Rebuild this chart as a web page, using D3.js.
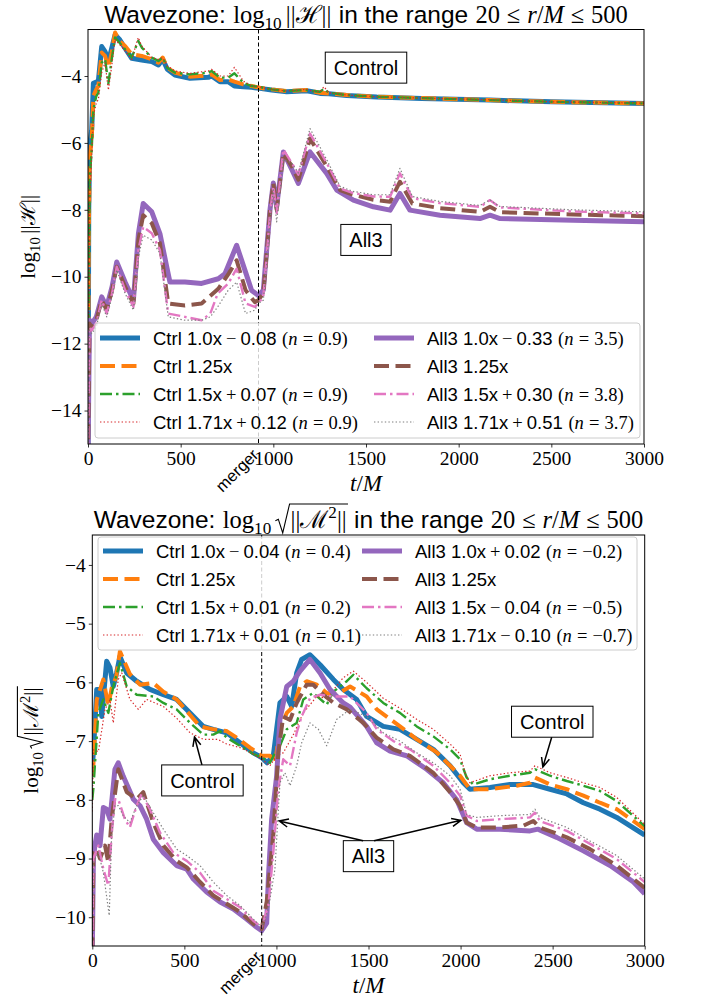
<!DOCTYPE html>
<html>
<head>
<meta charset="utf-8">
<script src="https://cdn.jsdelivr.net/npm/d3@7/dist/d3.min.js"></script>
<style>
  body { margin: 0; background: #fff; }
</style>
</head>
<body>
<svg id="chart" width="705" height="1000"></svg>
<script>
var SANS = "'Liberation Sans', Arial, sans-serif";
var SERIF = "'Liberation Serif', 'DejaVu Serif', serif";
var MINUS = "\u2212";

// ---- top panel: log10 ||H|| ----
var hCtrl10T = [0, 4, 10, 20, 29, 45, 56, 74, 92, 110, 128, 146, 169, 200, 236, 290, 344, 380, 403, 428, 469, 550, 649, 667, 712, 757, 790, 838, 883, 928, 991, 1072, 1180, 1210, 1252, 1300, 1396, 1558, 1800, 2169, 2500, 3000];
var hCtrl10V = [-15.5, -8.0, -6.0, -5.6, -4.22, -4.18, -4.15, -3.12, -3.27, -3.57, -3.17, -2.77, -2.9, -3.17, -3.47, -3.52, -3.57, -3.67, -3.5, -3.8, -3.97, -4.07, -4.04, -4.0, -4.17, -4.17, -4.3, -4.32, -4.34, -4.37, -4.42, -4.47, -4.44, -4.47, -4.52, -4.53, -4.58, -4.63, -4.67, -4.72, -4.77, -4.82];
var hCtrl125T = hCtrl10T;
var hCtrl125V = [-15.5, -8.8, -6.4, -5.9, -4.6, -4.4, -4.3, -3.3, -3.4, -3.75, -3.3, -2.7, -2.95, -3.1, -3.35, -3.4, -3.5, -3.6, -3.45, -3.75, -3.9, -4.02, -3.98, -3.95, -4.12, -4.1, -4.17, -4.25, -4.3, -4.35, -4.4, -4.45, -4.42, -4.45, -4.5, -4.52, -4.57, -4.62, -4.66, -4.72, -4.77, -4.82];
var hCtrl15T = [0, 4, 10, 20, 29, 45, 56, 74, 92, 110, 128, 146, 169, 200, 236, 271, 290, 344, 380, 403, 428, 469, 550, 649, 667, 712, 757, 790, 838, 883, 928, 991, 1072, 1180, 1210, 1252, 1273, 1300, 1396, 1558, 1800, 2169, 2500, 3000];
var hCtrl15V = [-15.5, -10.0, -7.0, -6.2, -5.0, -4.6, -4.5, -3.6, -3.5, -4.22, -3.5, -2.85, -3.0, -3.2, -3.45, -2.95, -3.15, -3.45, -3.55, -3.45, -3.75, -3.9, -3.95, -3.9, -3.85, -4.05, -4.05, -3.92, -4.2, -4.3, -4.33, -4.4, -4.45, -4.42, -4.45, -4.47, -4.38, -4.5, -4.57, -4.62, -4.66, -4.72, -4.77, -4.82];
var hCtrl171T = hCtrl15T;
var hCtrl171V = [-15.5, -11.0, -7.5, -6.4, -5.2, -4.8, -4.7, -3.9, -3.6, -4.42, -3.7, -2.9, -3.05, -3.25, -3.5, -2.85, -3.1, -3.45, -3.5, -3.45, -3.7, -3.85, -3.92, -3.85, -3.8, -4.0, -4.0, -3.74, -4.15, -4.3, -4.33, -4.4, -4.45, -4.4, -4.45, -4.47, -4.32, -4.5, -4.57, -4.62, -4.66, -4.71, -4.77, -4.81];
var hAll310T = [0, 8, 20, 45, 74, 101, 130, 155, 200, 245, 272, 298, 344, 388, 425, 442, 523, 613, 703, 739, 802, 847, 883, 919, 946, 964, 982, 1000, 1018, 1054, 1100, 1135, 1198, 1288, 1342, 1432, 1540, 1630, 1683, 1737, 1899, 2115, 2169, 2223, 2619, 3000];
var hAll310V = [-15.5, -11.3, -11.4, -11.2, -10.6, -10.9, -10.3, -9.56, -10.16, -10.7, -8.71, -7.81, -8.06, -8.71, -9.71, -10.16, -10.16, -10.2, -10.06, -9.91, -9.06, -9.81, -10.41, -10.56, -10.4, -9.2, -8.0, -7.2, -7.9, -6.27, -6.8, -7.21, -6.27, -6.91, -7.41, -7.71, -7.91, -8.01, -7.51, -8.01, -8.16, -8.26, -8.16, -8.26, -8.31, -8.36];
var hAll3125T = [0, 8, 20, 45, 74, 101, 130, 155, 200, 245, 272, 298, 344, 388, 433, 523, 613, 703, 760, 802, 850, 900, 919, 946, 964, 982, 1000, 1018, 1054, 1100, 1135, 1198, 1288, 1360, 1432, 1540, 1630, 1683, 1750, 1899, 2115, 2169, 2223, 2619, 3000];
var hAll3125V = [-15.5, -11.4, -11.5, -11.3, -10.7, -11.0, -10.4, -9.7, -10.3, -10.8, -8.9, -8.16, -8.4, -9.0, -10.8, -10.86, -10.8, -10.36, -9.9, -9.51, -10.4, -10.76, -10.7, -10.5, -9.3, -8.0, -7.2, -8.0, -6.3, -6.7, -7.1, -5.87, -6.7, -7.41, -7.55, -7.7, -7.76, -7.16, -7.81, -7.95, -8.06, -7.91, -8.07, -8.14, -8.19];
var hAll315T = [0, 8, 20, 45, 74, 101, 130, 155, 200, 245, 272, 298, 344, 388, 433, 523, 613, 660, 700, 757, 802, 850, 900, 919, 946, 964, 982, 1000, 1018, 1054, 1100, 1135, 1198, 1288, 1360, 1432, 1540, 1630, 1683, 1750, 1899, 2115, 2169, 2223, 2619, 3000];
var hAll315V = [-15.5, -11.5, -11.6, -11.4, -10.7, -11.1, -10.5, -9.7, -10.4, -10.9, -9.2, -8.51, -8.7, -9.2, -11.1, -11.2, -11.3, -11.1, -10.5, -10.2, -9.76, -10.8, -10.9, -10.8, -10.6, -9.4, -8.1, -7.3, -8.1, -6.2, -6.6, -6.95, -5.72, -6.6, -7.36, -7.5, -7.6, -7.61, -6.91, -7.65, -7.8, -7.91, -7.71, -7.93, -8.05, -8.11];
var hAll3171T = hAll315T;
var hAll3171V = [-15.5, -11.6, -11.7, -11.5, -10.8, -11.2, -10.6, -9.8, -10.5, -11.0, -9.4, -8.76, -8.9, -9.3, -11.2, -11.3, -11.3, -11.2, -10.9, -10.4, -10.16, -11.1, -11.0, -10.8, -10.7, -9.6, -8.3, -7.4, -8.36, -6.5, -6.6, -6.9, -5.57, -6.5, -7.3, -7.45, -7.55, -7.55, -6.76, -7.6, -7.75, -7.87, -7.7, -7.9, -8.0, -8.06];

// ---- bottom panel: log10 sqrt(||M^2||) ----
var mCtrl10T = [0, 6, 24, 42, 51, 78, 96, 114, 132, 150, 187, 241, 313, 386, 458, 531, 603, 657, 730, 802, 874, 920, 949, 983, 1001, 1019, 1056, 1083, 1110, 1137, 1182, 1237, 1309, 1363, 1436, 1490, 1580, 1671, 1762, 1852, 1943, 2015, 2051, 2160, 2268, 2395, 2486, 2577, 2667, 2757, 2848, 3000];
var mCtrl10V = [-7.4, -7.2, -6.12, -6.12, -6.58, -5.64, -5.75, -6.07, -5.84, -5.56, -5.84, -5.98, -6.12, -6.21, -6.29, -6.52, -6.75, -6.8, -6.86, -7.03, -7.2, -7.28, -7.37, -7.25, -6.8, -6.35, -6.24, -6.41, -5.84, -5.61, -5.53, -5.7, -5.95, -6.12, -6.29, -6.58, -6.75, -6.8, -6.97, -7.14, -7.42, -7.71, -7.82, -7.79, -7.74, -7.74, -7.82, -7.9, -8.05, -8.16, -8.3, -8.6];
var mCtrl125T = [0, 6, 24, 60, 87, 105, 130, 150, 204, 259, 331, 386, 458, 513, 585, 657, 730, 784, 856, 920, 965, 992, 1019, 1056, 1092, 1128, 1164, 1219, 1273, 1327, 1400, 1490, 1545, 1671, 1762, 1870, 1943, 1997, 2051, 2160, 2305, 2377, 2404, 2486, 2577, 2667, 2757, 2848, 3000];
var mCtrl125V = [-7.6, -7.4, -6.3, -5.95, -6.4, -6.1, -5.9, -5.47, -5.86, -6.04, -6.01, -6.16, -6.29, -6.49, -6.75, -6.8, -6.83, -6.94, -7.11, -7.25, -7.25, -7.37, -6.8, -6.52, -6.41, -6.07, -5.98, -6.04, -6.18, -6.21, -6.07, -6.24, -6.46, -6.75, -6.97, -7.19, -7.42, -7.59, -7.82, -7.82, -7.76, -7.71, -7.62, -7.74, -7.82, -7.93, -8.05, -8.16, -8.5];
var mCtrl15T = [0, 6, 33, 60, 87, 114, 150, 187, 241, 331, 386, 458, 531, 603, 657, 694, 730, 802, 874, 920, 965, 992, 1019, 1056, 1110, 1146, 1200, 1273, 1309, 1382, 1418, 1490, 1580, 1671, 1762, 1852, 1943, 1997, 2033, 2069, 2160, 2268, 2377, 2404, 2486, 2577, 2667, 2757, 2848, 3000];
var mCtrl15V = [-8.0, -7.8, -6.52, -6.29, -6.52, -6.07, -5.67, -6.07, -6.21, -6.24, -6.35, -6.46, -6.69, -6.89, -6.89, -6.83, -6.94, -7.08, -7.22, -7.28, -7.37, -7.2, -7.08, -6.8, -6.69, -6.29, -6.18, -6.38, -6.16, -5.98, -5.87, -6.1, -6.35, -6.52, -6.75, -6.92, -7.14, -7.31, -7.62, -7.74, -7.65, -7.59, -7.54, -7.48, -7.59, -7.68, -7.76, -7.85, -8.02, -8.45];
var mCtrl171T = [0, 6, 33, 69, 96, 114, 141, 160, 204, 250, 295, 386, 458, 531, 603, 680, 730, 802, 874, 920, 965, 1001, 1037, 1092, 1146, 1219, 1273, 1363, 1418, 1490, 1580, 1671, 1762, 1852, 1943, 1997, 2024, 2051, 2160, 2268, 2377, 2404, 2486, 2577, 2667, 2757, 2848, 3000];
var mCtrl171V = [-8.2, -7.15, -7.18, -6.46, -6.3, -6.69, -5.95, -5.84, -6.29, -6.46, -6.29, -6.41, -6.61, -6.86, -6.97, -6.97, -7.05, -7.11, -7.22, -7.31, -7.42, -7.25, -7.2, -6.89, -6.52, -6.24, -6.27, -5.92, -5.81, -6.0, -6.27, -6.44, -6.63, -6.8, -7.05, -7.22, -7.54, -7.71, -7.59, -7.54, -7.51, -7.42, -7.54, -7.62, -7.71, -7.79, -7.96, -8.42];
var mAll310T = [0, 6, 14, 24, 42, 60, 78, 96, 123, 141, 168, 223, 259, 295, 331, 386, 458, 513, 549, 621, 694, 766, 838, 893, 920, 947, 956, 974, 1001, 1019, 1056, 1092, 1128, 1182, 1237, 1291, 1363, 1400, 1490, 1545, 1617, 1707, 1816, 1906, 1979, 2033, 2088, 2214, 2377, 2420, 2522, 2667, 2812, 2939, 3000];
var mAll310V = [-10.6, -9.0, -8.78, -8.6, -8.78, -8.13, -8.16, -8.33, -7.48, -7.37, -7.6, -7.99, -8.1, -8.33, -8.67, -8.9, -9.12, -9.18, -9.35, -9.57, -9.74, -9.86, -10.03, -10.17, -10.23, -10.1, -9.35, -8.33, -7.6, -6.63, -6.07, -5.98, -5.81, -5.61, -5.84, -6.12, -6.35, -6.42, -6.75, -7.03, -7.17, -7.25, -7.48, -7.71, -8.0, -8.39, -8.5, -8.5, -8.53, -8.5, -8.64, -8.87, -9.12, -9.4, -9.6];
var mAll3125T = [0, 6, 24, 42, 69, 87, 105, 141, 187, 241, 277, 331, 386, 458, 513, 585, 657, 730, 802, 874, 920, 947, 983, 1010, 1037, 1074, 1110, 1164, 1200, 1255, 1310, 1382, 1472, 1544, 1635, 1725, 1852, 1943, 1997, 2033, 2088, 2214, 2341, 2395, 2430, 2577, 2703, 2848, 3000];
var mAll3125V = [-10.6, -8.9, -8.83, -9.0, -8.78, -9.07, -8.33, -7.48, -7.87, -7.99, -7.87, -8.39, -8.78, -9.04, -9.15, -9.4, -9.63, -9.77, -9.91, -10.11, -10.2, -9.74, -8.6, -7.2, -6.58, -6.64, -6.35, -6.04, -6.04, -6.21, -6.35, -6.46, -6.69, -6.94, -7.14, -7.25, -7.54, -7.87, -8.1, -8.39, -8.47, -8.47, -8.44, -8.36, -8.47, -8.64, -8.84, -9.12, -9.5];
var mAll315T = [0, 6, 33, 60, 87, 105, 123, 141, 177, 204, 241, 268, 313, 368, 440, 513, 585, 657, 730, 802, 874, 920, 956, 983, 1010, 1037, 1074, 1110, 1137, 1182, 1237, 1309, 1400, 1490, 1545, 1635, 1725, 1852, 1943, 1997, 2033, 2088, 2214, 2377, 2404, 2430, 2577, 2703, 2848, 3000];
var mAll315V = [-10.6, -9.0, -8.78, -9.18, -9.46, -8.6, -7.99, -7.99, -8.33, -8.47, -8.1, -7.9, -8.16, -8.56, -8.9, -9.04, -9.24, -9.55, -9.69, -9.83, -10.06, -10.17, -9.8, -8.9, -7.82, -7.31, -7.42, -6.86, -6.58, -6.27, -6.21, -6.24, -6.24, -6.52, -6.8, -7.0, -7.14, -7.42, -7.71, -7.93, -8.27, -8.36, -8.33, -8.3, -8.22, -8.36, -8.53, -8.75, -9.01, -9.4];
var mAll3171T = [0, 6, 33, 60, 92, 105, 123, 141, 168, 204, 241, 277, 331, 386, 458, 513, 585, 657, 730, 802, 874, 920, 956, 992, 1019, 1046, 1074, 1110, 1137, 1182, 1228, 1273, 1327, 1400, 1490, 1580, 1671, 1762, 1852, 1943, 1997, 2033, 2088, 2214, 2377, 2404, 2430, 2577, 2703, 2848, 3000];
var mAll3171V = [-10.6, -9.07, -8.9, -9.24, -9.97, -8.6, -8.1, -8.1, -8.27, -8.39, -8.1, -7.93, -8.22, -8.5, -8.84, -8.95, -9.12, -9.4, -9.63, -9.8, -10.03, -10.17, -9.86, -9.18, -7.71, -7.54, -7.76, -7.42, -7.03, -6.69, -6.8, -7.08, -6.63, -6.46, -6.58, -6.86, -7.0, -7.2, -7.37, -7.59, -7.82, -8.25, -8.3, -8.27, -8.25, -8.16, -8.3, -8.47, -8.7, -8.95, -9.35];

var xTicks = [0, 500, 1000, 1500, 2000, 2500, 3000];
var hYTicks = [-14, -12, -10, -8, -6, -4];
var mYTicks = [-10, -9, -8, -7, -6, -5, -4];
var mergerT = 920;

var hLabels = ["Ctrl 1.0x \u2212 0.08 (n = 0.9)", "Ctrl 1.25x", "Ctrl 1.5x + 0.07 (n = 0.9)", "Ctrl 1.71x + 0.12 (n = 0.9)",
  "All3 1.0x \u2212 0.33 (n = 3.5)", "All3 1.25x", "All3 1.5x + 0.30 (n = 3.8)", "All3 1.71x + 0.51 (n = 3.7)"];
var mLabels = ["Ctrl 1.0x \u2212 0.04 (n = 0.4)", "Ctrl 1.25x", "Ctrl 1.5x + 0.01 (n = 0.2)", "Ctrl 1.71x + 0.01 (n = 0.1)",
  "All3 1.0x + 0.02 (n = \u22120.2)", "All3 1.25x", "All3 1.5x \u2212 0.04 (n = \u22120.5)", "All3 1.71x \u2212 0.10 (n = \u22120.7)"];

// annotations: text position and arrow targets, in data units
var hNotes = [{ text: "Control", t: 1500, v: -3.75, arrows: [] }, { text: "All3", t: 1500, v: -8.9, arrows: [] }];
var mNotes = [
  { text: "Control", t: 598, v: -7.67, arrows: [[555, -6.93]] },
  { text: "Control", t: 2498, v: -6.67, arrows: [[2447, -7.44]] },
  { text: "All3", t: 1500, v: -8.96, arrows: [[1015, -8.36], [2002, -8.35]] }
];

var colors = ["#1f77b4", "#ff7f0e", "#2ca02c", "#d62728", "#9467bd", "#8c564b", "#e377c2", "#7f7f7f"];
var styles = [
  { w: 5, dash: null },
  { w: 4, dash: "15,6.5" },
  { w: 2.4, dash: "12,4,2.5,4" },
  { w: 1.2, dash: "1.4,2.2" }
];

var svg = d3.select("#chart");

// lays out a run of text pieces (sans / serif / italic / sub / sup / radical)
function rich(parent, segs, size) {
  var g = parent.append("g");
  var x = 0, radX = null, overEnd = 0;
  segs.forEach(function (s) {
    var fs = size * (s.k || 1);
    x += (s.gl || 0) * size;
    if (s.rad) { radX = x; x += 0.62 * size; return; }
    var el = g.append("text")
      .attr("x", x)
      .attr("y", (s.dy || 0) * size)
      .attr("font-family", s.f === "sans" ? SANS : SERIF)
      .attr("font-style", s.i ? "italic" : null)
      .attr("font-size", fs)
      .attr("fill", "#000")
      .text(s.t);
    x += el.node().getComputedTextLength();
    if (s.o) overEnd = x;
    x += (s.gr || 0) * size;
  });
  if (radX !== null) {
    g.append("path")
      .attr("d", "M" + radX + "," + (-0.3 * size) + "L" + (radX + 0.12 * size) + "," + (-0.36 * size) +
        "L" + (radX + 0.3 * size) + "," + (0.2 * size) + "L" + (radX + 0.58 * size) + "," + (-0.98 * size) +
        "L" + (overEnd + 0.05 * size) + "," + (-0.98 * size))
      .attr("fill", "none").attr("stroke", "#000").attr("stroke-width", 1.1);
  }
  return { g: g, w: x };
}

function legendSegs(s) {
  var m = s.match(/^(.+?x)(?: ([+\u2212]) ([\d.]+) \(n = (\u2212?[\d.]+)\))?$/);
  var segs = [{ t: m[1], f: "sans" }];
  if (m[2]) {
    segs.push({ t: m[2], gl: 0.22, gr: 0.22 }, { t: m[3], f: "sans" },
      { t: "(", gl: 0.3 }, { t: "n", i: true }, { t: "=", gl: 0.28, gr: 0.28 }, { t: m[4] + ")" });
  }
  return segs;
}

function fmt(d) { return d < 0 ? MINUS + Math.abs(d) : String(d); }

function drawPanel(p) {
  var x = d3.scaleLinear().domain([0, 3000]).range([p.left, p.right]);
  var y = d3.scaleLinear().domain(p.yDom).range([p.bottom, p.top]);
  var g = svg.append("g");

  g.append("clipPath").attr("id", "clip-" + p.id)
    .append("rect").attr("x", p.left).attr("y", p.top)
    .attr("width", p.right - p.left).attr("height", p.bottom - p.top);

  var line = d3.line().x(function (d) { return x(d[0]); }).y(function (d) { return y(d[1]); });
  var plot = g.append("g").attr("clip-path", "url(#clip-" + p.id + ")");
  p.series.forEach(function (s, i) {
    var st = styles[i % 4];
    plot.append("path")
      .datum(d3.zip(s[0], s[1]))
      .attr("d", line)
      .attr("fill", "none")
      .attr("stroke", colors[i])
      .attr("stroke-width", st.w)
      .attr("stroke-dasharray", st.dash)
      .attr("stroke-linejoin", "round");
  });

  // merger marker
  g.append("line")
    .attr("x1", x(mergerT)).attr("x2", x(mergerT))
    .attr("y1", p.top).attr("y2", p.bottom)
    .attr("stroke", "#000").attr("stroke-width", 1).attr("stroke-dasharray", "4,2.5");

  // axes
  var xa = g.append("g").attr("transform", "translate(0," + p.bottom + ")")
    .call(d3.axisBottom(x).tickValues(xTicks).tickSize(3.5).tickPadding(4).tickFormat(fmt));
  var ya = g.append("g").attr("transform", "translate(" + p.left + ",0)")
    .call(d3.axisLeft(y).tickValues(p.yTicks).tickSize(3.5).tickPadding(3).tickFormat(fmt));
  [xa, ya].forEach(function (a) {
    a.select(".domain").remove();
    a.selectAll("text").attr("font-family", SERIF).attr("font-size", 19.5).attr("fill", "#000");
    a.selectAll("line").attr("stroke", "#000").attr("stroke-width", 0.8);
  });

  // annotations
  p.notes.forEach(function (n) {
    var cx = x(n.t), cy = y(n.v), fs = 20;
    var r = rich(g, [{ t: n.text, f: "sans" }], fs);
    var bw = r.w + 17, bh = 31;
    r.g.attr("transform", "translate(" + (cx - r.w / 2) + "," + (cy + 0.36 * fs) + ")");
    g.insert("rect", function () { return r.g.node(); })
      .attr("x", cx - bw / 2).attr("y", cy - bh / 2).attr("width", bw).attr("height", bh)
      .attr("fill", "#fff").attr("stroke", "#000").attr("stroke-width", 1);
    n.arrows.forEach(function (a) {
      var tx = x(a[0]), ty = y(a[1]);
      var sy = ty < cy ? cy - bh / 2 : cy + bh / 2;
      var sx = cx + (tx - cx) * 0.06;
      var ang = Math.atan2(ty - sy, tx - sx), hl = 10, hw = 0.42;
      g.append("path")
        .attr("d", "M" + sx + "," + sy + "L" + tx + "," + ty +
          "M" + (tx - hl * Math.cos(ang - hw)) + "," + (ty - hl * Math.sin(ang - hw)) +
          "L" + tx + "," + ty +
          "L" + (tx - hl * Math.cos(ang + hw)) + "," + (ty - hl * Math.sin(ang + hw)))
        .attr("fill", "none").attr("stroke", "#000").attr("stroke-width", 1.5);
    });
  });

  // legend
  var L = p.legend;
  g.append("rect")
    .attr("x", L.x).attr("y", L.y).attr("width", L.w).attr("height", L.h).attr("rx", 3)
    .attr("fill", "#fff").attr("fill-opacity", 0.8).attr("stroke", "#ccc").attr("stroke-width", 1);
  p.labels.forEach(function (lab, i) {
    var col = Math.floor(i / 4), row = i % 4, st = styles[row];
    var x0 = L.x + col * L.col2, cy = L.y + L.first + row * L.gap;
    g.append("line")
      .attr("x1", x0 + 5).attr("x2", x0 + 45).attr("y1", cy).attr("y2", cy)
      .attr("stroke", colors[i]).attr("stroke-width", st.w).attr("stroke-dasharray", st.dash);
    var r = rich(g, legendSegs(lab), L.fs);
    r.g.attr("transform", "translate(" + (x0 + 58) + "," + (cy + 0.36 * L.fs) + ")");
  });

  // frame
  g.append("rect")
    .attr("x", p.left).attr("y", p.top).attr("width", p.right - p.left).attr("height", p.bottom - p.top)
    .attr("fill", "none").attr("stroke", "#000").attr("stroke-width", 1);

  // merger label
  g.append("text")
    .attr("transform", "translate(" + (x(mergerT) + 1) + "," + (p.bottom + 12) + ") rotate(-45)")
    .attr("text-anchor", "end")
    .attr("font-family", SANS).attr("font-size", 16.5)
    .text("merger");

  // x label
  var xl = rich(g, [{ t: "t", i: true }, { t: "/" }, { t: "M", i: true }], 23);
  xl.g.attr("transform", "translate(" + ((p.left + p.right) / 2 - xl.w / 2) + "," + (p.bottom + 47) + ")");

  // y label
  var yl = rich(g, p.ySegs, 21);
  yl.g.attr("transform", "translate(" + p.yLabelX + "," + ((p.top + p.bottom) / 2 + yl.w / 2) + ") rotate(-90)");

  // title
  var tl = rich(g, p.title, 24.5);
  tl.g.attr("transform", "translate(" + ((p.left + p.right) / 2 - tl.w / 2) + "," + (p.top - 7) + ")");
}

var rangeSegs = [{ t: "in the range", f: "sans", gr: 0.3 }, { t: "20", gr: 0.28 }, { t: "\u2264", gr: 0.28 },
  { t: "r", i: true }, { t: "/" }, { t: "M", i: true, gr: 0.28 }, { t: "\u2264", gr: 0.28 }, { t: "500" }];

drawPanel({
  id: "h", left: 88, right: 644, top: 29.5, bottom: 444, yDom: [-15, -2.61], yTicks: hYTicks,
  series: [[hCtrl10T, hCtrl10V], [hCtrl125T, hCtrl125V], [hCtrl15T, hCtrl15V], [hCtrl171T, hCtrl171V],
    [hAll310T, hAll310V], [hAll3125T, hAll3125V], [hAll315T, hAll315V], [hAll3171T, hAll3171V]],
  labels: hLabels, notes: hNotes,
  legend: { x: 95, y: 323, w: 545, h: 115, first: 15, gap: 28, col2: 274, fs: 18.5 },
  yLabelX: 35,
  ySegs: [{ t: "log" }, { t: "10", k: 0.7, dy: 0.25, gr: 0.17 }, { t: "||" }, { t: "\u210B" }, { t: "||" }],
  title: [{ t: "Wavezone:", f: "sans", gr: 0.3 }, { t: "log" }, { t: "10", k: 0.7, dy: 0.25, gr: 0.17 },
    { t: "||" }, { t: "\u210B" }, { t: "||", gr: 0.3 }].concat(rangeSegs)
});

drawPanel({
  id: "m", left: 92.3, right: 644.7, top: 535, bottom: 946, yDom: [-10.49, -3.49], yTicks: mYTicks,
  series: [[mCtrl10T, mCtrl10V], [mCtrl125T, mCtrl125V], [mCtrl15T, mCtrl15V], [mCtrl171T, mCtrl171V],
    [mAll310T, mAll310V], [mAll3125T, mAll3125V], [mAll315T, mAll315V], [mAll3171T, mAll3171V]],
  labels: mLabels, notes: mNotes,
  legend: { x: 98, y: 537, w: 539, h: 113, first: 14, gap: 28, col2: 259, fs: 18.5 },
  yLabelX: 38,
  ySegs: [{ t: "log" }, { t: "10", k: 0.7, dy: 0.25, gr: 0.17 }, { rad: true }, { t: "||\u2133", o: true },
    { t: "2", k: 0.7, dy: -0.4, o: true }, { t: "||", o: true }],
  title: [{ t: "Wavezone:", f: "sans", gr: 0.3 }, { t: "log" }, { t: "10", k: 0.7, dy: 0.25, gr: 0.17 },
    { rad: true }, { t: "||\u2133", o: true }, { t: "2", k: 0.7, dy: -0.4, o: true }, { t: "||", o: true, gr: 0.3 }]
    .concat(rangeSegs)
});
</script>
</body>
</html>
